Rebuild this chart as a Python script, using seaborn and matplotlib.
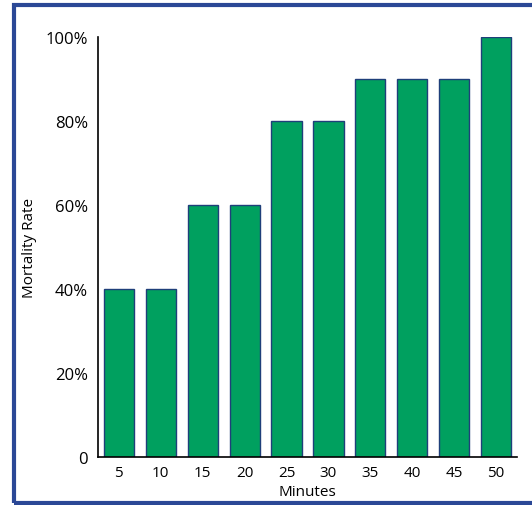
import matplotlib
matplotlib.use("Agg")
import matplotlib.pyplot as plt
import seaborn as sns
import pandas as pd
from matplotlib.patches import Rectangle

minutes = ["5", "10", "15", "20", "25", "30", "35", "40", "45", "50"]
mortality = [0.4, 0.4, 0.6, 0.6, 0.8, 0.8, 0.9, 0.9, 0.9, 1.0]
ytick_vals = [0, 0.2, 0.4, 0.6, 0.8, 1.0]
ytick_labels = ["0", "20%", "40%", "60%", "80%", "100%"]

sns.set_style("white")
plt.rcParams['font.family'] = ['Open Sans', 'DejaVu Sans']
plt.rcParams['text.color'] = 'black'
plt.rcParams['axes.labelcolor'] = 'black'
plt.rcParams['xtick.color'] = 'black'
plt.rcParams['ytick.color'] = 'black'

df = pd.DataFrame({"Minutes": minutes, "Mortality": mortality})

fig = plt.figure(figsize=(5.32, 5.06), dpi=100)
ax = fig.add_axes([0.184, 0.095, 0.788, 0.83])

sns.barplot(data=df, x="Minutes", y="Mortality", order=minutes,
            color="#00a05f", saturation=1, width=0.72,
            edgecolor="#1f3f7a", linewidth=1, ax=ax)

ax.set_xlim(-0.5, len(minutes) - 0.5)
ax.set_ylim(0, 1)
ax.set_yticks(ytick_vals)
ax.set_yticklabels(ytick_labels, fontsize=12)
ax.set_xticks(range(len(minutes)))
ax.set_xticklabels(minutes, fontsize=11)
ax.set_xticks([i + 0.5 for i in range(len(minutes))], minor=True)
ax.tick_params(axis="x", which="major", length=0, pad=6)
ax.tick_params(axis="x", which="minor", direction="in", length=6, width=1)
ax.tick_params(axis="y", direction="in", length=9, width=1, pad=7)

for s in ["top", "right"]:
    ax.spines[s].set_visible(False)
for s in ["left", "bottom"]:
    ax.spines[s].set_color("black")
    ax.spines[s].set_linewidth(1.2)

ax.set_xlabel("Minutes", fontsize=11, labelpad=3)
ax.set_ylabel("Mortality Rate", fontsize=11, labelpad=6)

# blue frame around the picture, cut off on the right
frame = Rectangle((14 / 532, 2.5 / 506), 1.2, 497.5 / 506, transform=fig.transFigure,
                  fill=False, edgecolor="#2b4896", linewidth=3, clip_on=False)
fig.patches.append(frame)

fig.savefig("out.png", dpi=100)
